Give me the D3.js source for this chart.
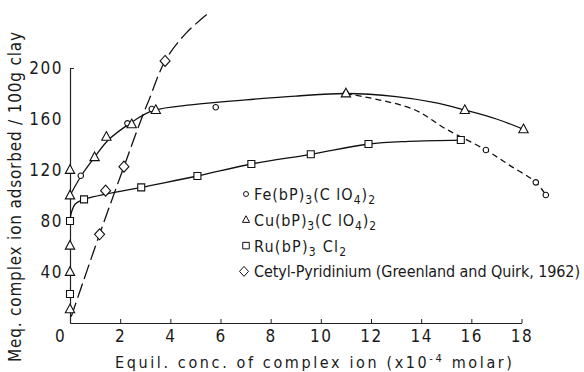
<!DOCTYPE html>
<html>
<head>
<meta charset="utf-8">
<script src="https://cdn.jsdelivr.net/npm/d3@7/dist/d3.min.js"></script>
<style>
  body { margin: 0; background: #fff; }
  text { font-family: "DejaVu Sans Condensed", "Liberation Sans Narrow", "DejaVu Sans", sans-serif; fill: #1a1a1a; }
</style>
</head>
<body>
<div id="chart"></div>
<script>
// === DATA ===
// marks: [conc x10^-4 molar, meq / 100g clay]
const fePoints = [[0.43, 115.5], [2.29, 156.6], [3.26, 167.8], [5.81, 169.2], [11.0, 180], [16.58, 135.7], [18.57, 110.3], [18.97, 100.4]];
const cuPoints = [[0, 10.7], [0, 40], [0, 60.6], [0, 100], [0, 120], [0.98, 130], [1.45, 146], [2.46, 155.8], [3.42, 167], [11.0, 180], [15.74, 167], [18.08, 151.9]];
const ruPoints = [[0, 22.7], [0, 80], [0.56, 97], [2.84, 106.4], [5.08, 115.3], [7.23, 124.7], [9.6, 132.3], [11.9, 140.4], [15.58, 143.5]];
const cetylPoints = [[1.18, 69.6], [1.42, 103.8], [2.15, 122.6], [3.79, 205.5]];

// fitted curves as drawn on the figure
const cuCurve = [[0, 100], [0.45, 115.5], [0.98, 130], [1.5, 143], [2.35, 156], [3.3, 166.5], [5, 171.5], [7, 175], [9, 178], [11, 180], [13, 177.5], [14.5, 173], [15.74, 167], [17, 160], [18.08, 151.9]];
const ruCurve = [[0, 80], [0.06, 87], [0.22, 93.5], [0.56, 97], [2.84, 106.4], [5.08, 115.3], [7.23, 124.7], [9.6, 132.3], [11.9, 140.4], [13.5, 142.5], [15.58, 143.5]];
const feCurve = [[11, 180], [13.65, 168], [15, 152], [16.58, 135.7], [17.5, 124], [18.57, 110.3], [18.97, 100.4]];
const cetylCurve = [[0.05, 5], [1.18, 69.6], [2.15, 122.6], [2.88, 161.8], [3.15, 175], [3.79, 205.5], [4.61, 227], [5.52, 243]];

const xTicks = [0, 2, 4, 6, 8, 10, 12, 14, 16, 18];
const yTicks = [40, 80, 120, 160, 200];

const legendItems = [
    { shape: "circle", parts: [["Fe(bP)"], ["3", "sub"], ["(C lO"], ["4", "sub"], [")"], ["2", "sub"]], len: 121 },
    { shape: "triangle", parts: [["Cu(bP)"], ["3", "sub"], ["(C lO"], ["4", "sub"], [")"], ["2", "sub"]], len: 122 },
    { shape: "square", parts: [["Ru(bP)"], ["3", "sub"], [" Cl"], ["2", "sub"]], len: 92 },
    { shape: "diamond", parts: [["Cetyl-Pyridinium  (Greenland and Quirk, 1962)"]], len: 326 }
];

// === SETUP ===
const width = 584, height = 372;
const svg = d3.select("#chart").append("svg")
    .attr("width", width)
    .attr("height", height);

const x = d3.scaleLinear().domain([0, 18]).range([70, 521.5]);
const y = d3.scaleLinear().domain([0, 200]).range([323, 68]);

// === AXES ===
const xAxis = svg.append("g")
    .attr("transform", `translate(0,${y(0)})`)
    .call(d3.axisBottom(x).tickValues(xTicks).tickSize(-4).tickSizeOuter(0).tickPadding(5));
const yAxis = svg.append("g")
    .attr("transform", `translate(${x(0)},0)`)
    .call(d3.axisLeft(y).tickValues(yTicks).tickSize(-4).tickSizeOuter(0).tickPadding(7));

[xAxis, yAxis].forEach(g => {
    g.select(".domain").attr("stroke", "#222").attr("stroke-width", 1.2);
    g.selectAll(".tick line").attr("stroke", "#222").attr("stroke-width", 1);
    g.selectAll(".tick text")
        .attr("font-size", 17)
        .attr("letter-spacing", 1.5)
        .style("font-family", null);
});
xAxis.selectAll(".tick text").attr("dy", "0.85em");
xAxis.selectAll(".tick").filter(d => d === 0).select("text").attr("dx", -10);
yAxis.selectAll(".tick line").filter(d => d !== 200).remove();

// axis titles
const xTitle = svg.append("text")
    .attr("x", 115)
    .attr("y", 368)
    .attr("font-size", 16)
    .attr("textLength", 397)
    .attr("lengthAdjust", "spacing");
xTitle.append("tspan").text("Equil. conc. of complex ion (x10");
xTitle.append("tspan").attr("dy", -6).attr("font-size", 11).text("-4");
xTitle.append("tspan").attr("dy", 6).text(" molar)");

svg.append("text")
    .attr("transform", `translate(21,${362}) rotate(-90)`)
    .attr("font-size", 17)
    .attr("textLength", 330)
    .attr("lengthAdjust", "spacing")
    .text("Meq. complex ion adsorbed / 100g clay");

// === LINES ===
const line = d3.line()
    .x(d => x(d[0]))
    .y(d => y(d[1]))
    .curve(d3.curveCatmullRom.alpha(0.5));

const curves = [
    { data: cuCurve, dash: null },
    { data: ruCurve, dash: null },
    { data: feCurve, dash: "6,4" },
    { data: cetylCurve, dash: "15,5" }
];
svg.selectAll(".curve")
    .data(curves)
    .join("path")
    .attr("class", "curve")
    .attr("d", d => line(d.data))
    .attr("fill", "none")
    .attr("stroke", "#111")
    .attr("stroke-width", 1.3)
    .attr("stroke-dasharray", d => d.dash);

// === MARKERS ===
function shapePath(shape, s) {
    if (shape === "triangle") return `M0,${-s * 0.62}L${s * 0.55},${s * 0.4}L${-s * 0.55},${s * 0.4}Z`;
    if (shape === "square") return `M${-s / 2},${-s / 2}h${s}v${s}h${-s}Z`;
    if (shape === "diamond") return `M0,${-s * 0.55}L${s * 0.5},0L0,${s * 0.55}L${-s * 0.5},0Z`;
    return d3.arc()({ innerRadius: 0, outerRadius: s / 2, startAngle: 0, endAngle: 2 * Math.PI });
}

const markerSets = [
    { data: fePoints, shape: "circle", size: 5.5 },
    { data: ruPoints, shape: "square", size: 7 },
    { data: cuPoints, shape: "triangle", size: 8.5 },
    { data: cetylPoints, shape: "diamond", size: 10 }
];
markerSets.forEach(set => {
    svg.append("g").selectAll("path")
        .data(set.data)
        .join("path")
        .attr("transform", d => `translate(${x(d[0])},${y(d[1])})`)
        .attr("d", shapePath(set.shape, set.size))
        .attr("fill", "#fff")
        .attr("stroke", "#111")
        .attr("stroke-width", 1.1);
});

// === LEGEND ===
const legendX = 246, legendY = 194, legendStep = 25.8;
const legend = svg.append("g");
legendItems.forEach((item, i) => {
    const cy = legendY + i * legendStep;
    legend.append("path")
        .attr("transform", `translate(${item.shape === "diamond" ? legendX - 2 : legendX},${cy})`)
        .attr("d", shapePath(item.shape, item.shape === "diamond" ? 9 : item.shape === "circle" ? 5 : 6.5))
        .attr("fill", "#fff")
        .attr("stroke", "#111")
        .attr("stroke-width", 1);
    const t = legend.append("text")
        .attr("x", legendX + 8)
        .attr("y", cy + 6)
        .attr("font-size", 16)
        .attr("textLength", item.len)
        .attr("lengthAdjust", "spacing");
    item.parts.forEach(p => {
        const ts = t.append("tspan").text(p[0]);
        if (p[1] === "sub") ts.attr("font-size", 12).attr("baseline-shift", "-30%");
    });
});
</script>
</body>
</html>
